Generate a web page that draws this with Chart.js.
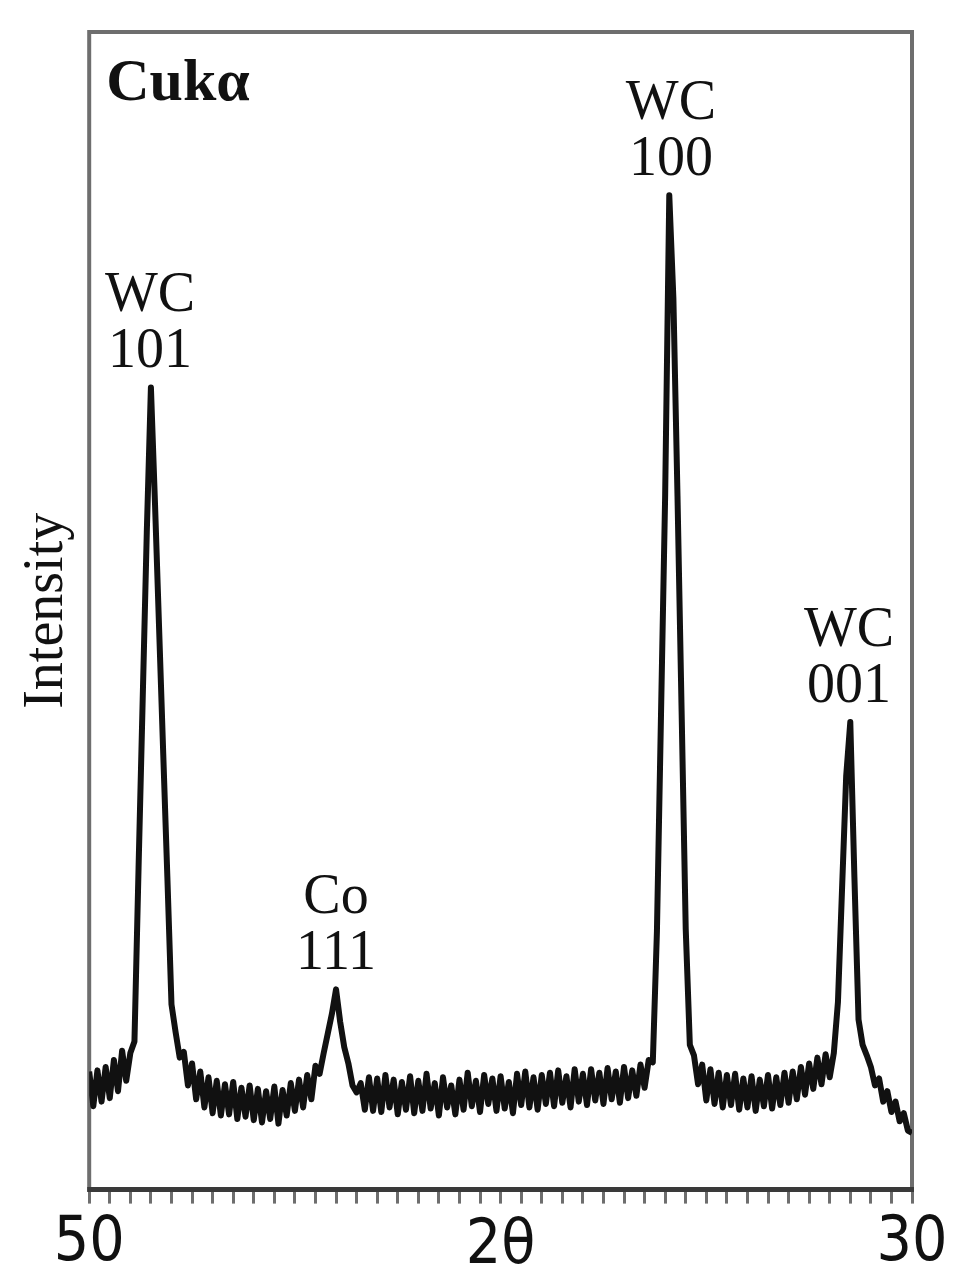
<!DOCTYPE html>
<html>
<head>
<meta charset="utf-8">
<title>XRD pattern</title>
<script src="https://cdn.jsdelivr.net/npm/chart.js@4/dist/chart.umd.min.js"></script>
<style>
  html, body { margin:0; padding:0; background:#fff; }
  #graph_div { width:968px; height:1288px; }
</style>
</head>
<body>
<div id="graph_div"><canvas id="graph"></canvas></div>
<script>
// scan angle (2 theta, degrees), step 0.1
const twoTheta = [
  50.0, 49.9, 49.8, 49.7, 49.6, 49.5, 49.4, 49.3, 49.2, 49.1,
  49.0, 48.9, 48.8, 48.7, 48.6, 48.5, 48.4, 48.3, 48.2, 48.1,
  48.0, 47.9, 47.8, 47.7, 47.6, 47.5, 47.4, 47.3, 47.2, 47.1,
  47.0, 46.9, 46.8, 46.7, 46.6, 46.5, 46.4, 46.3, 46.2, 46.1,
  46.0, 45.9, 45.8, 45.7, 45.6, 45.5, 45.4, 45.3, 45.2, 45.1,
  45.0, 44.9, 44.8, 44.7, 44.6, 44.5, 44.4, 44.3, 44.2, 44.1,
  44.0, 43.9, 43.8, 43.7, 43.6, 43.5, 43.4, 43.3, 43.2, 43.1,
  43.0, 42.9, 42.8, 42.7, 42.6, 42.5, 42.4, 42.3, 42.2, 42.1,
  42.0, 41.9, 41.8, 41.7, 41.6, 41.5, 41.4, 41.3, 41.2, 41.1,
  41.0, 40.9, 40.8, 40.7, 40.6, 40.5, 40.4, 40.3, 40.2, 40.1,
  40.0, 39.9, 39.8, 39.7, 39.6, 39.5, 39.4, 39.3, 39.2, 39.1,
  39.0, 38.9, 38.8, 38.7, 38.6, 38.5, 38.4, 38.3, 38.2, 38.1,
  38.0, 37.9, 37.8, 37.7, 37.6, 37.5, 37.4, 37.3, 37.2, 37.1,
  37.0, 36.9, 36.8, 36.7, 36.6, 36.5, 36.4, 36.3, 36.2, 36.1,
  36.0, 35.9, 35.8, 35.7, 35.6, 35.5, 35.4, 35.3, 35.2, 35.1,
  35.0, 34.9, 34.8, 34.7, 34.6, 34.5, 34.4, 34.3, 34.2, 34.1,
  34.0, 33.9, 33.8, 33.7, 33.6, 33.5, 33.4, 33.3, 33.2, 33.1,
  33.0, 32.9, 32.8, 32.7, 32.6, 32.5, 32.4, 32.3, 32.2, 32.1,
  32.0, 31.9, 31.8, 31.7, 31.6, 31.5, 31.4, 31.3, 31.2, 31.1,
  31.0, 30.9, 30.8, 30.7, 30.6, 30.5, 30.4, 30.3, 30.2, 30.1,
  30.0
]
// intensity (arb. units)
const intensity = [
  10.2, 7.2, 10.3, 7.6, 10.6, 7.9, 11.2, 8.5, 12.0, 9.4,
  11.8, 12.8, 27.8, 42.3, 56.8, 69.3, 59.2, 48.4, 37.6, 27.0,
  16.0, 13.6, 11.4, 11.9, 9.0, 10.9, 7.8, 10.2, 7.1, 9.7,
  6.6, 9.4, 6.4, 9.1, 6.5, 9.3, 6.1, 8.8, 6.3, 9.0,
  6.0, 8.7, 5.8, 8.5, 6.1, 8.9, 5.7, 8.6, 6.4, 9.2,
  6.8, 9.5, 7.1, 9.9, 7.8, 10.7, 10.0, 11.8, 13.5, 15.2,
  17.3, 14.5, 12.3, 10.9, 9.0, 8.4, 9.2, 6.9, 9.7, 6.8,
  9.6, 6.7, 9.9, 7.1, 9.5, 6.5, 9.3, 6.9, 9.8, 6.6,
  9.4, 6.8, 10.0, 7.0, 9.2, 6.4, 9.7, 7.1, 9.0, 6.5,
  9.5, 6.9, 10.1, 7.2, 9.4, 6.7, 9.9, 7.4, 9.6, 6.8,
  9.8, 7.0, 9.3, 6.6, 10.0, 7.3, 10.2, 7.1, 9.7, 6.9,
  9.9, 7.4, 10.1, 7.2, 10.3, 7.5, 9.8, 7.1, 10.4, 7.6,
  10.0, 7.3, 10.4, 7.7, 10.1, 7.4, 10.5, 7.8, 10.2, 7.5,
  10.6, 7.9, 10.3, 8.1, 10.8, 8.8, 11.2, 11.0, 22.3, 41.2,
  60.0, 85.9, 77.0, 59.9, 41.3, 22.5, 12.5, 11.6, 9.1, 10.8,
  7.7, 10.4, 7.4, 10.1, 7.1, 9.9, 7.3, 10.0, 6.9, 9.6,
  7.1, 9.8, 6.8, 9.5, 7.2, 9.9, 7.0, 9.7, 7.3, 10.1,
  7.5, 10.2, 7.8, 10.6, 8.2, 10.9, 8.7, 11.4, 9.1, 11.7,
  9.7, 11.8, 16.2, 26.0, 35.7, 40.4, 27.0, 14.7, 12.5, 11.6,
  10.6, 9.0, 9.6, 7.6, 8.5, 6.7, 7.6, 5.9, 6.6, 5.1,
  4.9
]
// peak annotations
const peakPhase = ['WC', 'Co', 'WC', 'WC']
const peakHkl = ['101', '111', '100', '001']
const peakAngle = [48.52, 44.0, 35.86, 31.53]
const peakTop = [69.3, 17.3, 85.9, 40.4]
const radiation = 'Cukα'

const frame = {
  id: 'frame',
  beforeDatasetsDraw(chart) {
    const {ctx, chartArea: a} = chart
    ctx.save()
    ctx.strokeStyle = '#6e6e6e'
    ctx.lineWidth = 4
    ctx.strokeRect(a.left, a.top, a.right - a.left, a.bottom - a.top)
    ctx.strokeStyle = '#3a3a3a'
    ctx.lineWidth = 5
    ctx.beginPath()
    ctx.moveTo(a.left - 2, a.bottom)
    ctx.lineTo(a.right + 2, a.bottom)
    ctx.stroke()
    ctx.restore()
  }
}

const peakLabels = {
  id: 'peakLabels',
  afterDatasetsDraw(chart) {
    const {ctx, chartArea, scales: {x, y}} = chart
    ctx.save()
    ctx.fillStyle = '#111'
    ctx.textAlign = 'center'
    ctx.textBaseline = 'alphabetic'
    ctx.font = '56px "Liberation Serif", "DejaVu Serif", serif'
    peakAngle.forEach((a, i) => {
      const px = x.getPixelForValue(a)
      const py = y.getPixelForValue(peakTop[i])
      ctx.fillText(peakHkl[i], px, py - 20)
      ctx.fillText(peakPhase[i], px, py - 76)
    })
    ctx.font = 'bold 60px "Liberation Serif", "DejaVu Serif", serif'
    ctx.textAlign = 'left'
    ctx.fillText(radiation, chartArea.left + 17, chartArea.top + 68)
    ctx.restore()
  }
}

document.addEventListener('DOMContentLoaded', () => {
  const points = twoTheta.map((t, i) => ({x: t, y: intensity[i]}))
  const tickFont = {family: '"Liberation Sans Narrow", "DejaVu Sans Condensed", sans-serif', size: 62}
  new Chart('graph', {
    type: 'line',
    data: {
      datasets: [{
        data: points,
        borderColor: '#111',
        borderWidth: 6,
        borderJoinStyle: 'round',
        pointRadius: 0,
        tension: 0,
        fill: false
      }]
    },
    options: {
      responsive: true,
      maintainAspectRatio: false,
      animation: false,
      layout: {padding: {left: 14, right: 56, top: 32, bottom: 4}},
      plugins: {
        legend: {display: false},
        tooltip: {enabled: false}
      },
      scales: {
        x: {
          type: 'linear',
          min: 30,
          max: 50,
          reverse: true,
          border: {display: false},
          grid: {
            drawOnChartArea: false,
            drawTicks: true,
            tickLength: 14,
            tickWidth: 3,
            color: '#6e6e6e'
          },
          ticks: {
            stepSize: 0.5,
            autoSkip: false,
            maxRotation: 0,
            padding: 3,
            color: '#111',
            font: tickFont,
            callback: v => (v === 50 || v === 30) ? String(v) : ''
          },
          title: {
            display: true,
            text: '2θ',
            color: '#111',
            font: tickFont,
            padding: {top: -74.4, bottom: 0}
          }
        },
        y: {
          min: 0,
          max: 100,
          border: {display: false},
          grid: {display: false, drawTicks: false},
          ticks: {display: false},
          title: {
            display: true,
            text: 'Intensity',
            color: '#111',
            font: {family: '"Liberation Serif", "DejaVu Serif", serif', size: 56},
            padding: {top: 0, bottom: 8}
          }
        }
      }
    },
    plugins: [frame, peakLabels]
  })
})
</script>
</body>
</html>
